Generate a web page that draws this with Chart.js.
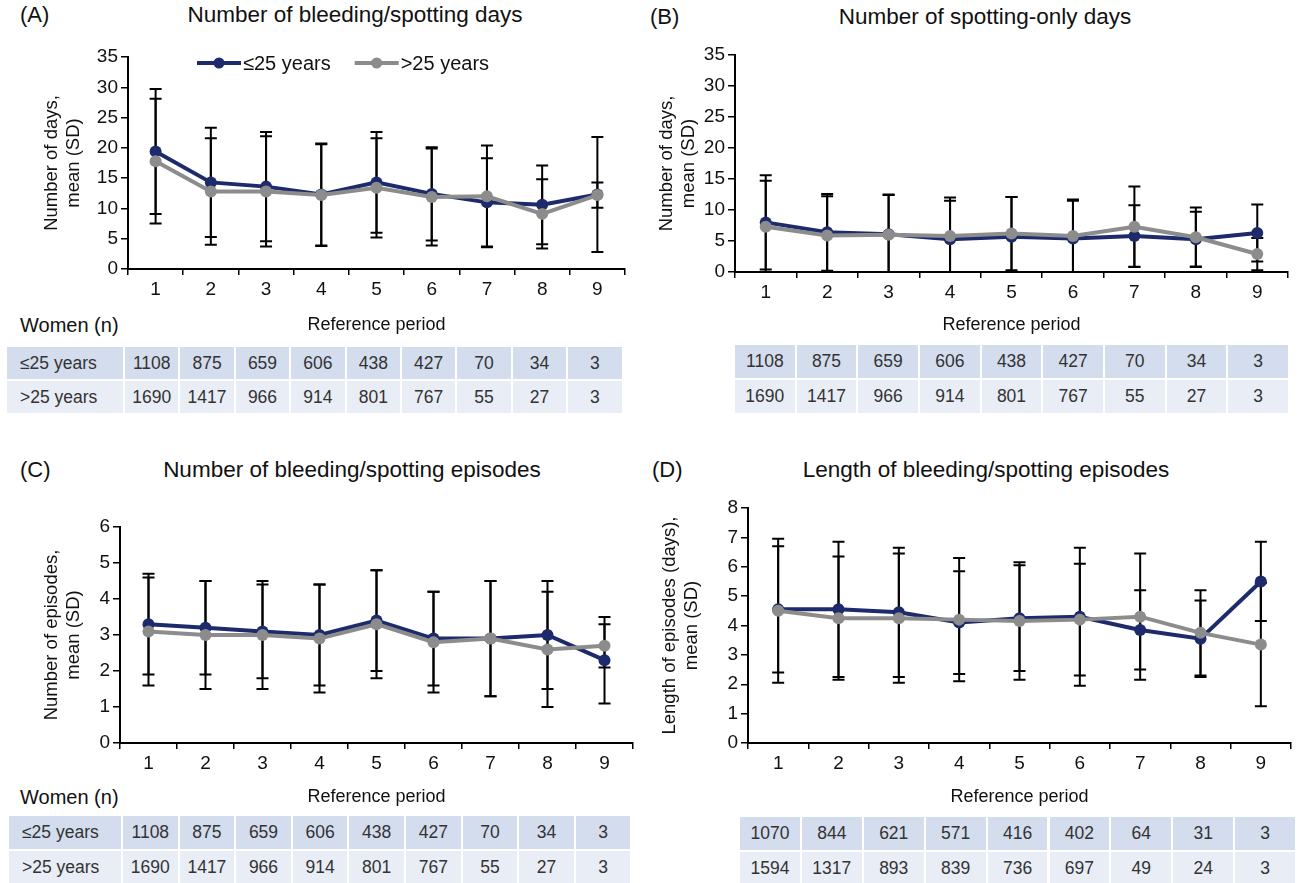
<!DOCTYPE html>
<html>
<head>
<meta charset="utf-8">
<script src="https://cdn.jsdelivr.net/npm/chart.js@4.4.1/dist/chart.umd.min.js"></script>
<style>
body{margin:0;background:#fff;font-family:"Liberation Sans",Arial,sans-serif;color:#111}
#page{position:relative;width:1299px;height:883px;overflow:hidden}
.lbl{position:absolute;font-size:20px;line-height:24px;white-space:nowrap}
.ttl{position:absolute;font-size:22.5px;line-height:26px;white-space:nowrap;transform:translateX(-50%)}
canvas{position:absolute}
.cell{position:absolute;font-size:17.5px;color:#333;display:flex;align-items:center;justify-content:center}
.cell.head{justify-content:flex-start;padding-left:13px;box-sizing:border-box}
</style>
</head>
<body>
<div id="page">
  <div class="lbl" style="left:20px;top:3px;font-size:22px">(A)</div>
  <div class="ttl" style="left:355px;top:2px">Number of bleeding/spotting days</div>
  <div class="lbl" style="left:650px;top:5px;font-size:22px">(B)</div>
  <div class="ttl" style="left:985px;top:4px">Number of spotting-only days</div>
  <div class="lbl" style="left:20px;top:458px;font-size:22px">(C)</div>
  <div class="ttl" style="left:352px;top:457px">Number of bleeding/spotting episodes</div>
  <div class="lbl" style="left:652px;top:458px;font-size:22px">(D)</div>
  <div class="ttl" style="left:986px;top:457px">Length of bleeding/spotting episodes</div>
  <div class="lbl" style="left:20px;top:313px">Women (n)</div>
  <div class="lbl" style="left:20px;top:785px">Women (n)</div>
  <canvas id="chartA" width="640" height="300" style="left:0;top:38px"></canvas>
  <canvas id="chartB" width="649" height="300" style="left:650px;top:38px"></canvas>
  <canvas id="chartC" width="645" height="320" style="left:0;top:490px"></canvas>
  <canvas id="chartD" width="649" height="320" style="left:650px;top:490px"></canvas>
</div>
<script>
// reference periods and groups
var periods = ['1', '2', '3', '4', '5', '6', '7', '8', '9'];
var groupLabels = ['≤25 years', '>25 years'];

// (A) number of bleeding/spotting days, mean and SD
var daysYoung = [19.4, 14.3, 13.6, 12.3, 14.3, 12.4, 11.0, 10.6, 12.3];
var daysYoungSD = [10.3, 9.0, 9.0, 8.4, 8.3, 7.7, 7.3, 6.5, 9.5];
var daysOld = [17.8, 12.8, 12.8, 12.2, 13.4, 11.9, 12.0, 9.1, 12.2];
var daysOldSD = [10.3, 8.8, 9.1, 8.4, 8.2, 8.0, 8.4, 5.7, 2.1];

// (B) number of spotting-only days
var spotYoung = [8.0, 6.4, 6.1, 5.3, 5.7, 5.4, 5.8, 5.3, 6.3];
var spotYoungSD = [7.6, 6.2, 6.4, 6.2, 6.4, 6.1, 4.95, 4.4, 4.6];
var spotOld = [7.3, 5.9, 6.0, 5.8, 6.2, 5.8, 7.3, 5.6, 2.9];
var spotOldSD = [7.4, 6.3, 6.4, 6.2, 5.9, 5.9, 6.5, 4.8, 2.6];

// (C) number of bleeding/spotting episodes
var epiYoung = [3.3, 3.2, 3.1, 3.0, 3.4, 2.9, 2.9, 3.0, 2.3];
var epiYoungSD = [1.4, 1.3, 1.3, 1.4, 1.4, 1.3, 1.6, 1.5, 1.2];
var epiOld = [3.1, 3.0, 3.0, 2.9, 3.3, 2.8, 2.9, 2.6, 2.7];
var epiOldSD = [1.5, 1.5, 1.5, 1.5, 1.5, 1.4, 1.6, 1.6, 0.6];

// (D) length of bleeding/spotting episodes
var lenYoung = [4.55, 4.55, 4.45, 4.1, 4.25, 4.3, 3.85, 3.55, 5.5];
var lenYoungSD = [2.15, 2.3, 2.2, 1.75, 1.8, 2.35, 1.35, 1.3, 1.35];
var lenOld = [4.5, 4.25, 4.25, 4.2, 4.15, 4.2, 4.3, 3.75, 3.35];
var lenOldSD = [2.45, 2.1, 2.2, 2.1, 2.0, 1.9, 2.15, 1.45, 2.1];

// women (n) per period
var womenYoung = [1108, 875, 659, 606, 438, 427, 70, 34, 3];
var womenOld = [1690, 1417, 966, 914, 801, 767, 55, 27, 3];
var womenYoungD = [1070, 844, 621, 571, 416, 402, 64, 31, 3];
var womenOldD = [1594, 1317, 893, 839, 736, 697, 49, 24, 3];

var fontFamily = '"Liberation Sans", Arial, sans-serif';
var navy = '#1d2a6b';
var grey = '#8c8c8c';

// draws mean +/- SD bars behind the lines
var errorBarPlugin = {
    id: 'errorBars',
    beforeDatasetsDraw: function(chart){
        var ctx = chart.ctx;
        var yScale = chart.scales.y;
        ctx.save();
        ctx.strokeStyle = '#000';
        ctx.lineWidth = 2;
        chart.data.datasets.forEach(function(ds, di){
            var meta = chart.getDatasetMeta(di);
            meta.data.forEach(function(pt, i){
                var m = ds.data[i];
                var sd = ds.sd[i];
                var top = yScale.getPixelForValue(m + sd);
                var bot = yScale.getPixelForValue(Math.max(0, m - sd));
                ctx.beginPath();
                ctx.moveTo(pt.x, top); ctx.lineTo(pt.x, bot);
                ctx.moveTo(pt.x - 6, top); ctx.lineTo(pt.x + 6, top);
                ctx.moveTo(pt.x - 6, bot); ctx.lineTo(pt.x + 6, bot);
                ctx.stroke();
            });
        });
        ctx.restore();
    }
};

// legend with line + dot markers, drawn inside the plot area
var lineLegendPlugin = {
    id: 'lineLegend',
    afterDraw: function(chart, args, opts){
        if (!opts.display) return;
        var ctx = chart.ctx;
        var x = chart.chartArea.left + opts.offsetX;
        var y = chart.chartArea.top + opts.offsetY;
        ctx.save();
        ctx.font = '20px ' + fontFamily;
        ctx.textBaseline = 'middle';
        chart.data.datasets.forEach(function(ds){
            ctx.strokeStyle = ds.borderColor;
            ctx.lineWidth = 4;
            ctx.beginPath(); ctx.moveTo(x, y); ctx.lineTo(x + 44, y); ctx.stroke();
            ctx.fillStyle = ds.borderColor;
            ctx.beginPath(); ctx.arc(x + 22, y, 5.5, 0, 2 * Math.PI); ctx.fill();
            ctx.fillStyle = '#111';
            ctx.fillText(ds.label, x + 46, y + 1);
            x += 46 + ctx.measureText(ds.label).width + 24;
        });
        ctx.restore();
    }
};

function makeChart(id, young, youngSD, old, oldSD, yMax, yTitle, g, legend){
    return new Chart(document.getElementById(id), {
        type: 'line',
        plugins: [errorBarPlugin, lineLegendPlugin],
        data: {
            labels: periods,
            datasets: [
                {
                    label: groupLabels[0],
                    data: young,
                    sd: youngSD,
                    borderColor: navy,
                    backgroundColor: navy,
                    pointBackgroundColor: navy,
                    borderWidth: 4,
                    pointRadius: 6,
                    pointBorderWidth: 0,
                    order: 1
                },
                {
                    label: groupLabels[1],
                    data: old,
                    sd: oldSD,
                    borderColor: grey,
                    backgroundColor: grey,
                    pointBackgroundColor: grey,
                    borderWidth: 4,
                    pointRadius: 6,
                    pointBorderWidth: 0,
                    order: 0
                }
            ]
        },
        options: {
            responsive: false,
            animation: false,
            layout: {padding: {left: 0, right: g.padR, top: g.padT, bottom: 0}},
            plugins: {
                legend: {display: false},
                tooltip: {enabled: false},
                lineLegend: {display: legend, offsetX: 69, offsetY: 6}
            },
            scales: {
                x: {
                    offset: true,
                    grid: {offset: true, drawOnChartArea: false, tickLength: 6, color: '#000', lineWidth: 1.5},
                    border: {color: '#000', width: 2},
                    ticks: {color: '#111', font: {size: 19, family: fontFamily}, padding: 3, maxRotation: 0},
                    title: {display: true, text: 'Reference period', color: '#111',
                            font: {size: 18, family: fontFamily}, padding: {top: 0, bottom: 2}},
                    afterFit: function(s){ s.height = g.xH; }
                },
                y: {
                    min: 0,
                    max: yMax,
                    ticks: {stepSize: yMax > 10 ? 5 : 1, color: '#111', font: {size: 19, family: fontFamily}, padding: 3},
                    grid: {drawOnChartArea: false, tickLength: 7, color: '#000', lineWidth: 1.5},
                    border: {color: '#000', width: 2},
                    title: {display: true, text: yTitle, color: '#111',
                            font: {size: 18.5, family: fontFamily}, padding: {top: g.yPad, bottom: 0}},
                    afterFit: function(s){ s.width = g.yW; }
                }
            }
        }
    });
}

makeChart('chartA', daysYoung, daysYoungSD, daysOld, daysOldSD, 35,
    ['Number of days,', 'mean (SD)'], {padR: 15, padT: 19, xH: 69, yW: 128, yPad: 41}, true);
makeChart('chartB', spotYoung, spotYoungSD, spotOld, spotOldSD, 35,
    ['Number of days,', 'mean (SD)'], {padR: 11, padT: 17, xH: 66, yW: 85, yPad: 6}, false);
makeChart('chartC', epiYoung, epiYoungSD, epiOld, epiOldSD, 6,
    ['Number of episodes,', 'mean (SD)'], {padR: 12, padT: 37, xH: 67, yW: 120, yPad: 41}, false);
makeChart('chartD', lenYoung, lenYoungSD, lenOld, lenOldSD, 8,
    ['Length of episodes (days),', 'mean (SD)'], {padR: 8, padT: 18, xH: 67, yW: 98, yPad: 9}, false);

// tables of women (n) under each panel
function makeTable(t, rows){
    var page = document.getElementById('page');
    var colours = ['#d4ddee', '#e8edf6'];
    rows.forEach(function(vals, r){
        var top = t.top + r * (t.rowH + 2);
        function cell(x, w, text, head){
            var d = document.createElement('div');
            d.className = head ? 'cell head' : 'cell';
            d.style.left = x + 'px';
            d.style.top = top + 'px';
            d.style.width = w + 'px';
            d.style.height = t.rowH + 'px';
            d.style.background = colours[r];
            d.textContent = text;
            page.appendChild(d);
        }
        var x0 = t.left;
        if (t.labelW) {
            cell(t.left, t.labelW, groupLabels[r], true);
            x0 = t.left + t.labelW + 2;
        }
        vals.forEach(function(v, i){
            cell(x0 + i * t.pitch, t.pitch - 2, String(v), false);
        });
    });
}

makeTable({left: 7, top: 347, labelW: 116, pitch: 55.4, rowH: 32}, [womenYoung, womenOld]);
makeTable({left: 735, top: 345, labelW: 0, pitch: 61.67, rowH: 33}, [womenYoung, womenOld]);
makeTable({left: 9, top: 816, labelW: 112, pitch: 56.6, rowH: 33}, [womenYoung, womenOld]);
makeTable({left: 740, top: 817, labelW: 0, pitch: 61.9, rowH: 33}, [womenYoungD, womenOldD]);
</script>
</body>
</html>
